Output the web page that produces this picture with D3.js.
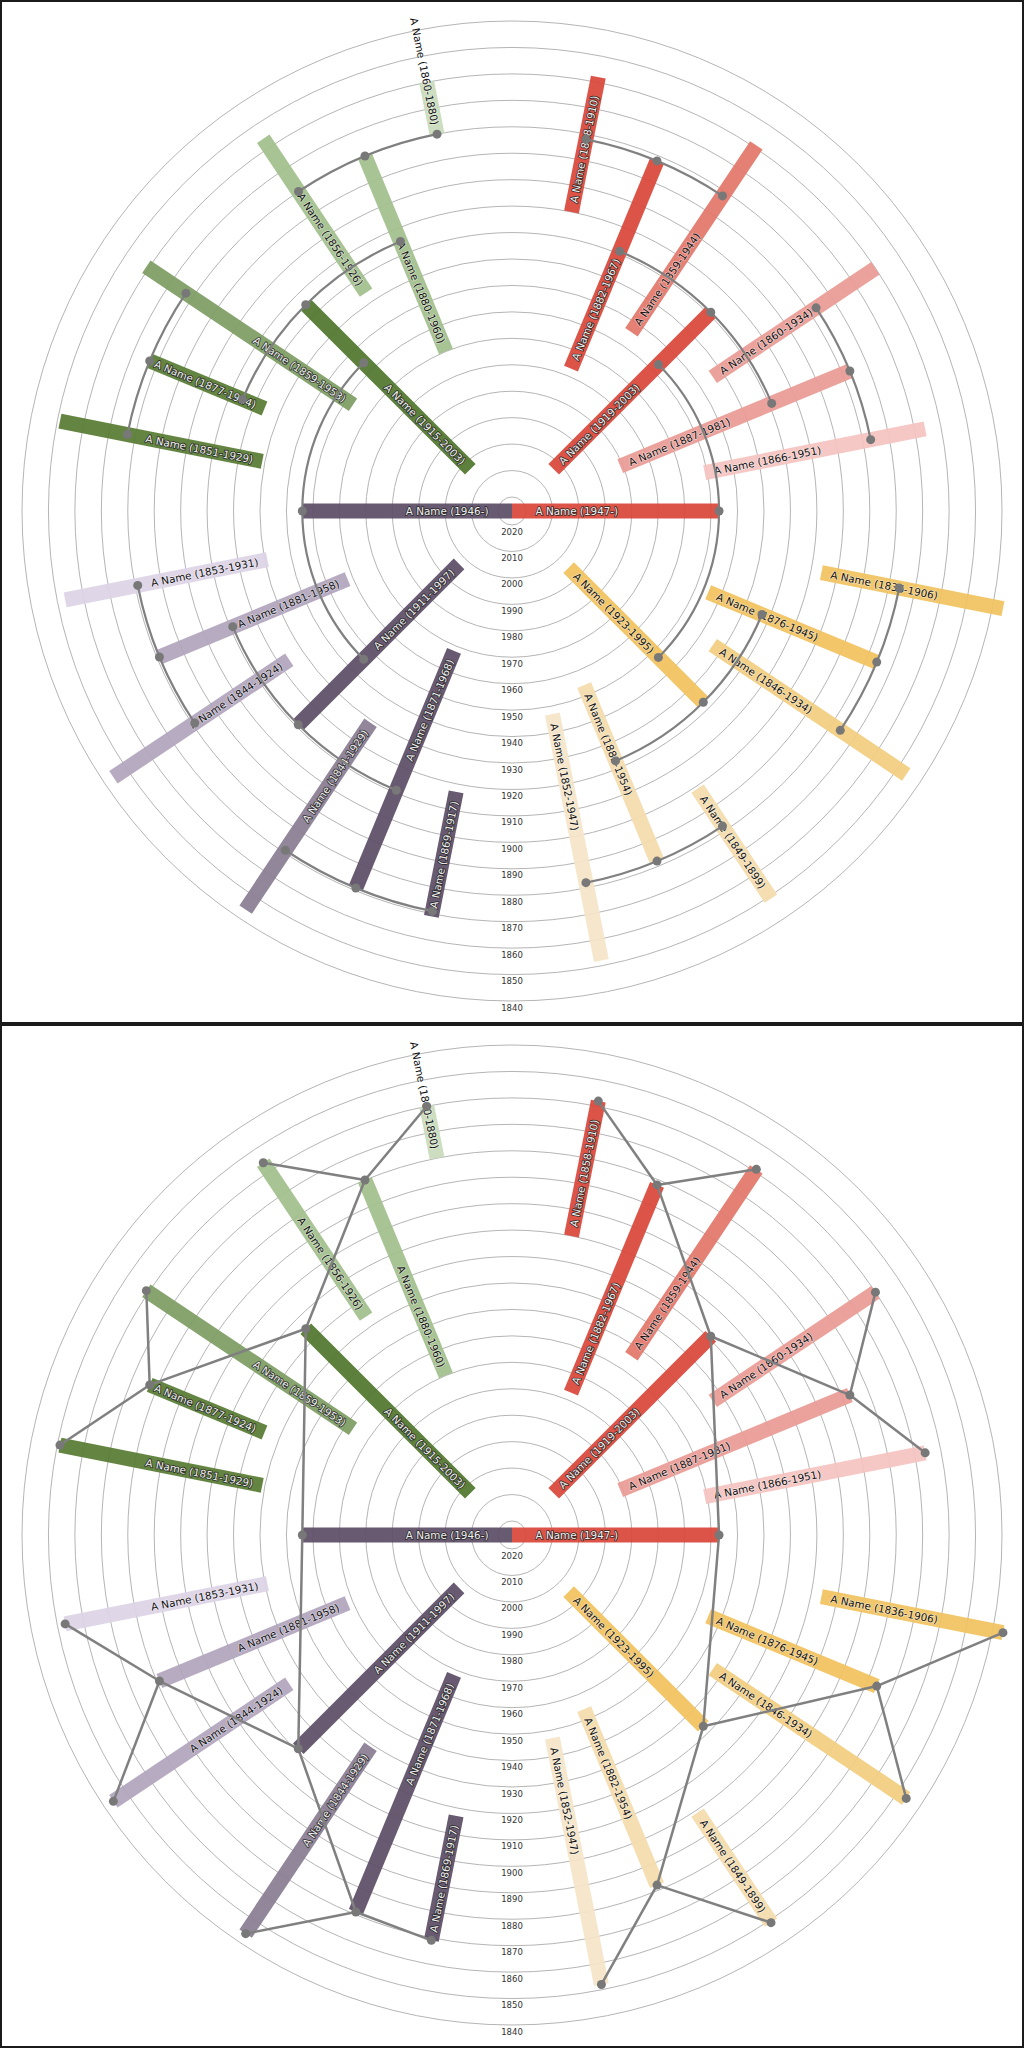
<!DOCTYPE html>
<html><head><meta charset="utf-8">
<script src="https://cdn.jsdelivr.net/npm/d3@7"></script>
<style>body{margin:0;background:#fff}svg{display:block}</style>
</head><body>
<svg id="chart" width="1024" height="2048"></svg>
<script>
// ---------- data ----------
const personIds = ["1946-","1947-","1915-2003","1911-1997","1919-2003","1923-1995",
  "1880-1960","1877-1924","1881-1958","1871-1968","1882-1967","1887-1981","1876-1945","1882-1954",
  "1860-1880","1856-1926","1859-1953","1851-1929","1853-1931","1844-1924","1844-1929","1869-1917",
  "1858-1910","1859-1944","1860-1934","1866-1951","1836-1906","1846-1934","1849-1899","1852-1947"];
const names = personIds.map(() => "A Name");
const births = [1946,1947,1915,1911,1919,1923,
  1880,1877,1881,1871,1882,1887,1876,1882,
  1860,1856,1859,1851,1853,1844,1844,1869,
  1858,1859,1860,1866,1836,1846,1849,1852];
const deaths = [null,null,2003,1997,2003,1995,
  1960,1924,1958,1968,1967,1981,1945,1954,
  1880,1926,1953,1929,1931,1924,1929,1917,
  1910,1944,1934,1951,1906,1934,1899,1947];
// [child, first parent, second parent]
const families = [
  ["1946-","1915-2003","1911-1997"],
  ["1947-","1919-2003","1923-1995"],
  ["1915-2003","1880-1960","1877-1924"],
  ["1911-1997","1881-1958","1871-1968"],
  ["1919-2003","1882-1967","1887-1981"],
  ["1923-1995","1876-1945","1882-1954"],
  ["1880-1960","1860-1880","1856-1926"],
  ["1877-1924","1859-1953","1851-1929"],
  ["1881-1958","1853-1931","1844-1924"],
  ["1871-1968","1844-1929","1869-1917"],
  ["1882-1967","1858-1910","1859-1944"],
  ["1887-1981","1860-1934","1866-1951"],
  ["1876-1945","1836-1906","1846-1934"],
  ["1882-1954","1849-1899","1852-1947"]
];
const rightRoot = "1947-", leftRoot = "1946-";
const yearTicks = d3.range(1840, 2021, 10);
const NOW = 2025.3, OLDEST = 1840, LABEL_END = 2020;

// ---------- styles ----------
const fills = {
  "1946-":"#5c4d66","1947-":"#d9473a","1915-2003":"#52762e","1911-1997":"#5c4d66",
  "1919-2003":"#d9473a","1923-1995":"#f1c25e","1880-1960":"#a2bf8c","1877-1924":"#587c33",
  "1881-1958":"#b1a5bd","1871-1968":"#5c4d66","1882-1967":"#d9473a","1887-1981":"#eb9b94",
  "1876-1945":"#f1c25e","1882-1954":"#f4dbab","1860-1880":"#c9dcbb","1856-1926":"#a2bf8c",
  "1859-1953":"#7e9d64","1851-1929":"#587c33","1853-1931":"#ddd3e6","1844-1924":"#b1a5bd",
  "1844-1929":"#8a7d92","1869-1917":"#5c4d66","1858-1910":"#d9473a","1859-1944":"#e3766a",
  "1860-1934":"#eb9b94","1866-1951":"#f5c4c1","1836-1906":"#f1c360","1846-1934":"#f2cd7f",
  "1849-1899":"#f4dbab","1852-1947":"#f5e5c8"
};

// ---------- layout ----------
const people = personIds.map((id, i) => ({id, name: names[i], birth: births[i], death: deaths[i]}));
const byId = new Map(people.map(p => [p.id, p]));
const parentMap = new Map(families.map(f => [f[0], [f[1], f[2]]]));
function inorder(id, out) {
  const ps = parentMap.get(id);
  if (ps) inorder(ps[0], out);
  out.push(id);
  if (ps) inorder(ps[1], out);
  return out;
}
const rightOrder = inorder(rightRoot, []);
const leftOrder = inorder(leftRoot, []);
const angRight = d3.scaleLinear().domain([0, rightOrder.length + 1]).range([90, -90]);
const angLeft = d3.scaleLinear().domain([0, leftOrder.length + 1]).range([90, 270]);
rightOrder.forEach((id, i) => { byId.get(id).angle = angRight(i + 1); byId.get(id).side = "right"; });
leftOrder.forEach((id, i) => { byId.get(id).angle = angLeft(i + 1); byId.get(id).side = "left"; });

const rScale = d3.scaleLinear().domain([NOW, OLDEST]).range([0, 490]);
const cx = 512, cy = 511;
const BAR_W = 15;
const LINE_COL = "#808080";
const LABEL_PAD = 9.5;

function pt(theta, r) {
  const a = theta * Math.PI / 180;
  return [cx + r * Math.cos(a), cy - r * Math.sin(a)];
}

const svg = d3.select("#chart");
svg.append("rect").attr("width", 1024).attr("height", 2048).attr("fill", "#fff");

function drawPanel(offsetY, mode) {
  const g = svg.append("g").attr("transform", `translate(0,${offsetY})`);
  g.append("rect").attr("x", 1).attr("y", 1).attr("width", 1022).attr("height", 1022)
    .attr("fill", "none").attr("stroke", "#1b1b1b").attr("stroke-width", 2);

  // rings
  g.append("g").selectAll("circle").data(yearTicks).join("circle")
    .attr("cx", cx).attr("cy", cy).attr("r", d => rScale(d))
    .attr("fill", "none").attr("stroke", "#b5b5b5").attr("stroke-width", 1);
  g.append("g").selectAll("text").data(yearTicks).join("text")
    .attr("x", cx).attr("y", d => cy + rScale(d) + 6.5)
    .attr("text-anchor", "middle").attr("dominant-baseline", "central")
    .attr("font-family", "DejaVu Sans").attr("font-size", 8.5).attr("fill", "#333")
    .text(d => d);

  // bars + labels
  const pg = g.append("g").selectAll("g").data(people).join("g")
    .attr("transform", d => `translate(${cx},${cy}) rotate(${-d.angle})`);
  pg.append("rect")
    .attr("x", d => rScale(d.death ?? NOW))
    .attr("width", d => rScale(d.birth) - rScale(d.death ?? NOW))
    .attr("y", -BAR_W / 2).attr("height", BAR_W)
    .attr("fill", d => fills[d.id]).attr("fill-opacity", 0.93);
  pg.append("text")
    .attr("x", d => rScale(d.death ?? LABEL_END) + LABEL_PAD).attr("y", 0)
    .attr("transform", d => d.side === "left" ? `rotate(180,${rScale(d.death ?? LABEL_END) + LABEL_PAD},0)` : null)
    .attr("text-anchor", d => d.side === "left" ? "end" : "start")
    .attr("dominant-baseline", "central")
    .attr("font-family", "DejaVu Sans").attr("font-size", 10.4)
    .each(function(d) {
      const dark = d3.hsl(fills[d.id]).l < 0.6;
      d3.select(this)
        .attr("fill", dark ? "#f0f0f0" : "#111")
        .attr("stroke", dark ? "#222" : "#fff")
        .attr("stroke-opacity", dark ? 0.9 : 0.5)
        .attr("stroke-width", dark ? 1.7 : 1.4)
        .attr("paint-order", "stroke")
        .attr("stroke-linejoin", "round");
    })
    .text(d => `${d.name} (${d.birth}-${d.death ?? ""})`);

  const lg = g.append("g");
  const dots = [];
  if (mode === "arc") {
    families.forEach(([c, a, b]) => {
      const C = byId.get(c), A = byId.get(a), B = byId.get(b);
      const r = rScale(C.birth);
      const p = d3.path();
      const a0 = -A.angle * Math.PI / 180, a1 = -B.angle * Math.PI / 180;
      const s = pt(A.angle, r);
      p.moveTo(s[0], s[1]);
      p.arc(cx, cy, r, a0, a1, a1 < a0);
      lg.append("path").attr("d", p.toString()).attr("fill", "none")
        .attr("stroke", LINE_COL).attr("stroke-width", 2.2);
      [A, C, B].forEach(q => dots.push(pt(q.angle, r)));
    });
  } else {
    families.forEach(([c, a, b]) => {
      const C = byId.get(c);
      [a, b].forEach(pid => {
        const P = byId.get(pid);
        const p0 = pt(C.angle, rScale(C.birth)), p1 = pt(P.angle, rScale(P.birth));
        lg.append("line").attr("x1", p0[0]).attr("y1", p0[1]).attr("x2", p1[0]).attr("y2", p1[1])
          .attr("stroke", LINE_COL).attr("stroke-width", 2.5);
      });
    });
    people.forEach(q => dots.push(pt(q.angle, rScale(q.birth))));
  }
  g.append("g").selectAll("circle").data(dots).join("circle")
    .attr("cx", d => d[0]).attr("cy", d => d[1]).attr("r", 4.5)
    .attr("fill", "#787878");
}

drawPanel(0, "arc");
drawPanel(1024, "line");
</script>
</body></html>
